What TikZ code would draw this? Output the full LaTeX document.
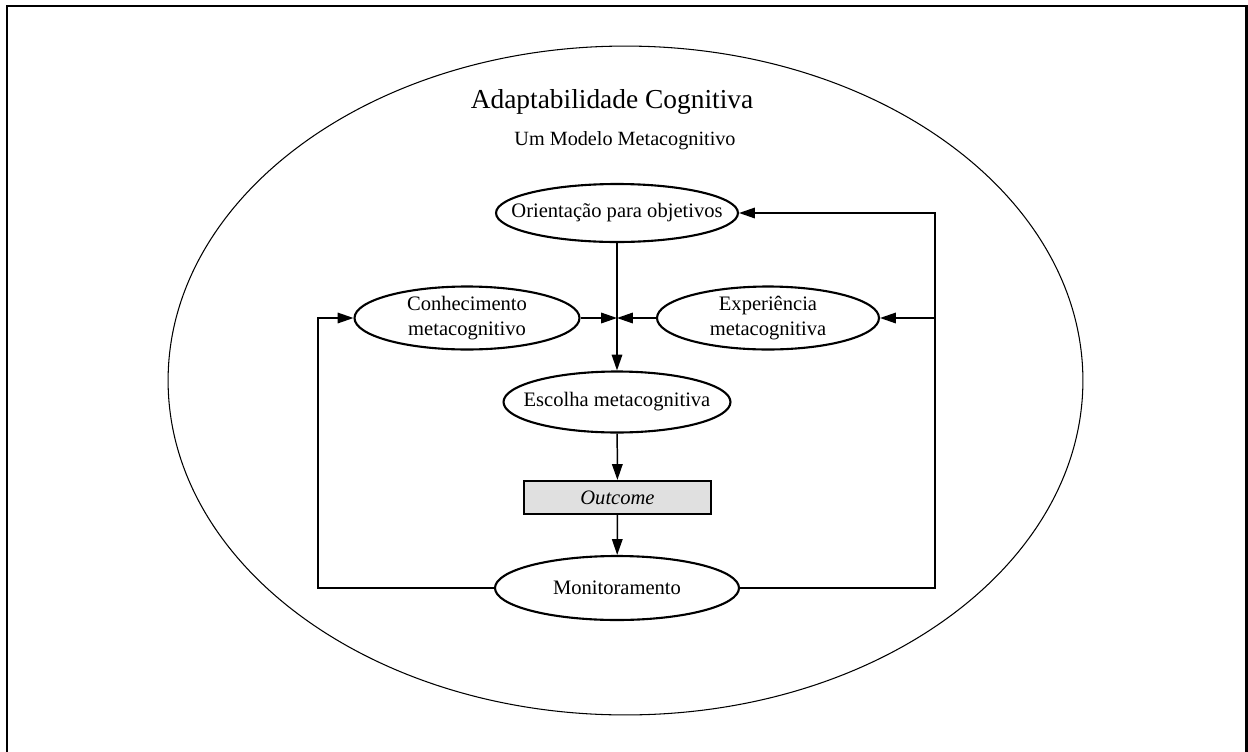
\documentclass[tikz,border=0pt]{standalone}
\usepackage{fontspec}
\setmainfont{Liberation Serif}
\usepackage{tikz}
\usetikzlibrary{shapes.geometric}
\usetikzlibrary{arrows.meta}

\begin{document}
\begin{tikzpicture}[x=0.02cm, y=-0.02cm,
    every label/.style = {font=\fontsize{11.7}{14.2}\selectfont, align=center, inner sep=0pt},
    etapa/.style = {draw, ellipse, line width=1.2pt, inner sep=0pt},
    seta/.style = {line width=0.85pt, -{Triangle[length=9pt, width=6pt]}}]
  \useasboundingbox (0,0) rectangle (1248,751);
  \clip (0,0) rectangle (1248,751);
  % moldura e elipse externa
  \draw[line width=1.7pt] (7,6) rectangle (1246,790);
  \draw[line width=0.6pt] (625.5,380.5) ellipse [x radius=9.15cm, y radius=6.69cm];
  \node[anchor=base, font=\fontsize{15.6}{19}\selectfont] (titulo) at (612,108) {Adaptabilidade Cognitiva};
  \node[anchor=base, font=\fontsize{11.5}{13}\selectfont] (subtitulo) at (625,145) {Um Modelo Metacognitivo};
  % etapas
  \node[etapa, minimum width=4.84cm, minimum height=1.16cm,
        label={center:Orientação para objetivos}] (orient) at (617,213) {};
  \node[etapa, minimum width=4.5cm, minimum height=1.26cm,
        label={center:Conhecimento\\metacognitivo}] (conhec) at (467,318) {};
  \node[etapa, minimum width=4.44cm, minimum height=1.26cm,
        label={center:Experiência\\metacognitiva}] (exper) at (768,318) {};
  \node[etapa, minimum width=4.54cm, minimum height=1.22cm,
        label={center:Escolha metacognitiva}] (escolha) at (617,402) {};
  \node[draw, line width=1.2pt, fill=black!12, minimum width=3.74cm, minimum height=0.66cm,
        font=\fontsize{11.7}{14.2}\selectfont\itshape] (outcome) at (617.5,497.5) {Outcome};
  \node[etapa, minimum width=4.88cm, minimum height=1.28cm,
        label={center:Monitoramento}] (monitor) at (617,588) {};
  % conexoes
  \coordinate (junc) at (617,318);
  \coordinate (lcanto) at (318,588);
  \coordinate (rcanto) at (935,588);
  \draw[seta] (orient) -- (escolha);
  \draw[seta] (conhec.east) -- (junc);
  \draw[seta] (exper.west) -- (junc);
  \draw[seta] (escolha) -- (outcome);
  \draw[seta] (outcome) -- (monitor);
  \draw[seta] (monitor.west) -- (lcanto) |- (conhec.west);
  \draw[seta] (monitor.east) -- (rcanto) |- (orient.east);
  \draw[seta] (rcanto |- exper.east) -- (exper.east);
\end{tikzpicture}
\end{document}
